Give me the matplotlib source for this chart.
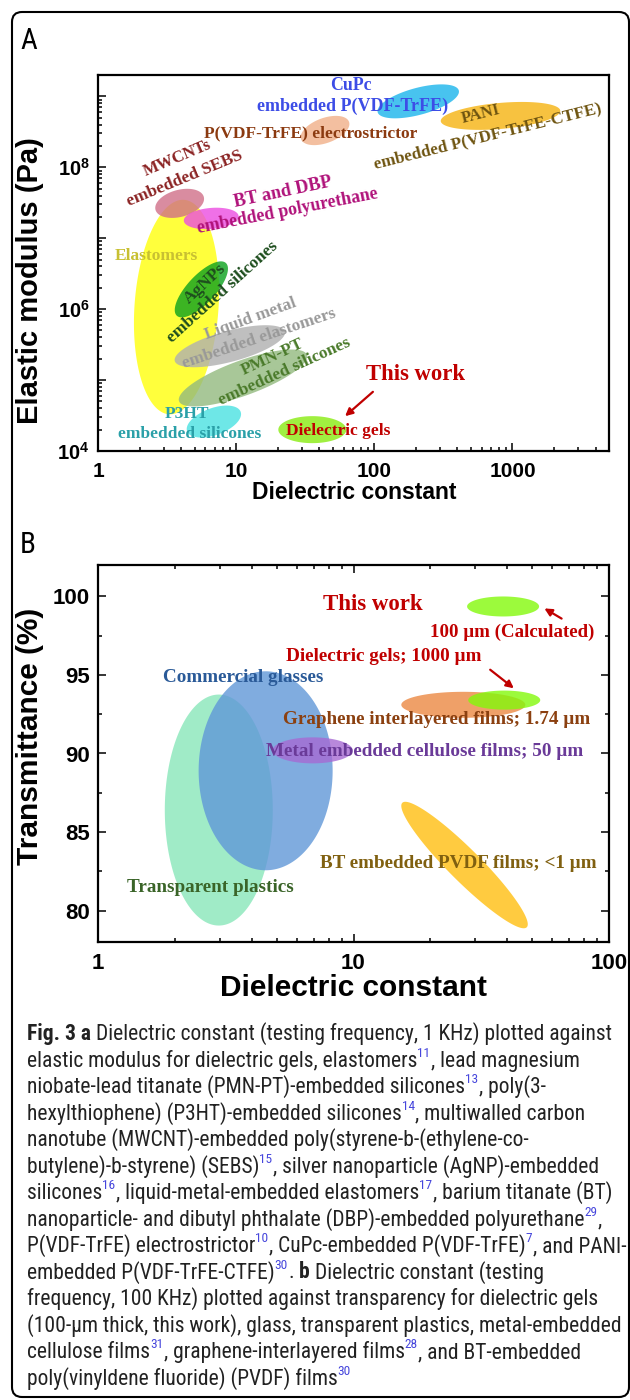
import numpy as np
import matplotlib
matplotlib.use('Agg')
import matplotlib.pyplot as plt
import matplotlib.font_manager as fm
from matplotlib.colors import to_rgb
from matplotlib.patches import FancyBboxPatch
from matplotlib.ticker import LogLocator, FuncFormatter, MultipleLocator, NullFormatter, FixedLocator

plt.rcParams['mathtext.fontset'] = 'custom'
plt.rcParams['mathtext.rm'] = 'Liberation Sans:bold'
plt.rcParams['mathtext.bf'] = 'Liberation Sans:bold'
plt.rcParams['mathtext.it'] = 'Liberation Sans:bold'

# ---------------- Data: panel A (dielectric constant vs elastic modulus) ----------------
a_names = ['Elastomers', 'Liquid metal embedded elastomers', 'PMN-PT embedded silicones',
           'AgNPs embedded silicones', 'P3HT embedded silicones', 'MWCNTs embedded SEBS',
           'BT and DBP embedded polyurethane', 'P(VDF-TrFE) electrostrictor',
           'CuPc embedded P(VDF-TrFE)', 'PANI embedded P(VDF-TrFE-CTFE)', 'Dielectric gels']
a_eps = [3.7, 9.0, 11.2, 5.6, 6.9, 3.9, 6.6, 44, 208, 820, 35.6]
a_mod = [1.07e6, 3.0e5, 1.07e5, 1.9e6, 2.6e4, 3.1e7, 1.9e7, 3.3e8, 8.5e8, 5.3e8, 2.0e4]

# ---------------- Data: panel B (dielectric constant vs transmittance) ----------------
b_names = ['Transparent plastics', 'Commercial glasses', 'Metal embedded cellulose films',
           'Graphene interlayered films', 'Dielectric gels 1000 um', 'Dielectric gels 100 um',
           'BT embedded PVDF films']
b_eps = [2.97, 4.53, 6.92, 26.9, 38.9, 38.5, 27.2]
b_trans = [86.4, 88.9, 90.2, 93.1, 93.4, 99.36, 82.9]

a_xticks = [1, 10, 100, 1000]
b_xticks = [1, 10, 100]

# ---------------- Styles ----------------
# ellipse extents in display pixels (width, height, angle)
a_shape = [(215, 84, 86), (114, 31, 15), (136, 35, 20), (72, 28, 47), (57, 27, 20),
           (50, 27, 15), (55, 21, 5), (51, 25, 20), (84, 27, 15), (120, 26, 5), (68, 27, 0)]
a_col = ['#ffff3c', '#c0c0c0', '#a8c898', '#3cb44a', '#6ee8e8', '#d98ca0', '#f070e8',
         '#f4c0a0', '#48c4f0', '#f8c240', '#a0f040']
b_shape = [(108, 231, 0), (134, 199, 0), (80, 26, 0), (124, 26, 0), (72, 19, 0),
           (72, 20, 0), (176, 32, -45)]
b_col = ['#a0ecc8', '#80ace0', '#b888dc', '#f0a068', '#9cfa3c', '#9cfa3c', '#ffcc40']
ALPHA = 0.8

W, H = 630, 1400
fig = plt.figure(figsize=(W / 100, H / 100), dpi=100)

names = {f.name for f in fm.fontManager.ttflist}
cap_font = 'Lato'
for cand in ['Liberation Sans Narrow', 'Roboto Condensed', 'Open Sans Condensed']:
    if cand in names:
        cap_font = cand
        break


def axrect(l, t, r, b):
    return [l / W, 1 - b / H, (r - l) / W, (b - t) / H]


def eff_color(c, a):
    rgb = (np.array(to_rgb(c)) - (1 - a)) / a
    return tuple(np.clip(rgb, 0, 1))


def draw_ellipse(ax, xc, yc, w, h, ang, color, z):
    cx, cy = ax.transData.transform((xc, yc))
    t = np.linspace(0, 2 * np.pi, 240)
    a = np.deg2rad(ang)
    px = cx + (w / 2) * np.cos(t) * np.cos(a) - (h / 2) * np.sin(t) * np.sin(a)
    py = cy + (w / 2) * np.cos(t) * np.sin(a) + (h / 2) * np.sin(t) * np.cos(a)
    d = ax.transData.inverted().transform(np.column_stack([px, py]))
    ax.fill(d[:, 0], d[:, 1], color=eff_color(color, ALPHA), alpha=ALPHA, lw=0, zorder=z)


def ftext(x, y, s, **kw):
    return fig.text(x / W, 1 - y / H, s, **kw)


SERIF = 'Liberation Serif'
SANS = 'Liberation Sans'

# ---------------- Panel A ----------------
axA = fig.add_axes(axrect(98, 75, 609, 451))
axA.set_xscale('log')
axA.set_yscale('log')
axA.set_xlim(1, 5000)
axA.set_ylim(1e4, 2e9)
axA.set_autoscale_on(False)
for i in range(len(a_names)):
    w, h, ang = a_shape[i]
    draw_ellipse(axA, a_eps[i], a_mod[i], w, h, ang, a_col[i], 2 + i)

axA.xaxis.set_major_locator(FixedLocator(a_xticks))
axA.xaxis.set_major_formatter(FuncFormatter(lambda v, p: '%d' % v))
axA.xaxis.set_minor_locator(LogLocator(base=10, subs=np.arange(2, 10), numticks=20))
axA.xaxis.set_minor_formatter(NullFormatter())
axA.yaxis.set_major_locator(LogLocator(base=10, numticks=20))
axA.yaxis.set_major_formatter(FuncFormatter(
    lambda v, p: (r'$\mathbf{10^{%d}}$' % round(np.log10(v))) if round(np.log10(v)) % 2 == 0 else ''))
axA.yaxis.set_minor_locator(LogLocator(base=10, subs=np.arange(2, 10), numticks=20))
axA.yaxis.set_minor_formatter(NullFormatter())
axA.tick_params(which='both', direction='in', width=1.1, top=False, right=False)
axA.tick_params(which='major', length=6)
axA.tick_params(which='minor', length=3.2)
axA.tick_params(axis='x', which='major', pad=8, labelsize=15)
axA.tick_params(axis='y', which='major', pad=6, labelsize=14.5)
for lab in axA.get_xticklabels():
    lab.set_fontfamily(SANS)
    lab.set_fontweight('bold')
for s in axA.spines.values():
    s.set_linewidth(1.6)

ftext(30, 281, 'Elastic modulus (Pa)', rotation=90, ha='center', va='center',
      fontsize=21, fontweight='bold', family=SANS)
ftext(354, 493, 'Dielectric constant', ha='center', va='center',
      fontsize=16.5, fontweight='bold', family=SANS)

a_labels = [
    ('CuPc', 351, 86, 0, '#3d4de6', 12.8),
    ('embedded P(VDF-TrFE)', 353, 106, 0, '#3d4de6', 13),
    ('P(VDF-TrFE) electrostrictor', 311, 133, 0, '#8b3a10', 12.5),
    ('PANI', 481, 114, 14, '#6e5410', 12),
    ('embedded P(VDF-TrFE-CTFE)', 488, 136, 14, '#6e5410', 12.3),
    ('MWCNTs', 177, 158, 23, '#8b2323', 12),
    ('embedded SEBS', 185, 179, 22.5, '#8b2323', 12.5),
    ('BT and DBP', 283, 192, 12, '#b0127a', 13.2),
    ('embedded polyurethane', 288, 211, 11, '#b0127a', 12.8),
    ('Elastomers', 156, 256, 0, '#c8c032', 12.5),
    ('AgNPs', 205, 284, 43, '#1e4e1e', 12.5),
    ('embedded silicones', 223, 292, 42, '#1e4e1e', 12.5),
    ('Liquid metal', 251, 319, 20, '#999999', 12.5),
    ('embedded elastomers', 259, 339, 18.5, '#999999', 12.5),
    ('PMN-PT', 273, 357, 25, '#4a7a2a', 12.5),
    ('embedded silicones', 285, 372, 24.5, '#4a7a2a', 12.5),
    ('This work', 416, 375, 0, '#c00000', 16.3),
    ('P3HT', 187, 414, 0, '#2aa0a8', 12.5),
    ('embedded silicones', 190, 434, 0, '#2aa0a8', 12.5),
    ('Dielectric gels', 338, 431, 0, '#c00000', 12.5),
]
for s, x, y, r, c, fs in a_labels:
    ftext(x, y, s, rotation=r, rotation_mode='anchor', ha='center', va='center',
          color=c, fontsize=fs, fontweight='bold', family=SERIF, zorder=20)

axA.annotate('', xy=(343, H - 418), xytext=(375, H - 390), xycoords='figure pixels',
             textcoords='figure pixels',
             arrowprops=dict(arrowstyle='-|>', color='#c00000', lw=1.6, mutation_scale=11))

# ---------------- Panel B ----------------
axB = fig.add_axes(axrect(98, 565, 609, 942))
axB.set_xscale('log')
axB.set_xlim(1, 100)
axB.set_ylim(78, 102)
axB.set_autoscale_on(False)
for i in range(len(b_names)):
    w, h, ang = b_shape[i]
    draw_ellipse(axB, b_eps[i], b_trans[i], w, h, ang, b_col[i], 2 + i)

axB.xaxis.set_major_locator(FixedLocator(b_xticks))
axB.xaxis.set_major_formatter(FuncFormatter(lambda v, p: '%d' % v))
axB.xaxis.set_minor_locator(LogLocator(base=10, subs=np.arange(2, 10), numticks=20))
axB.xaxis.set_minor_formatter(NullFormatter())
axB.yaxis.set_major_locator(MultipleLocator(5))
axB.yaxis.set_minor_locator(MultipleLocator(2.5))
axB.yaxis.set_major_formatter(FuncFormatter(lambda v, p: '%d' % v if 80 <= v <= 100 else ''))
axB.tick_params(which='both', direction='in', width=1.1, top=True, right=True)
axB.tick_params(which='major', length=6)
axB.tick_params(which='minor', length=3.2)
axB.tick_params(axis='x', which='major', pad=8, labelsize=16)
axB.tick_params(axis='y', which='major', pad=6, labelsize=16)
for lab in axB.get_xticklabels() + axB.get_yticklabels():
    lab.set_fontfamily(SANS)
    lab.set_fontweight('bold')
for s in axB.spines.values():
    s.set_linewidth(1.6)

ftext(30, 736, 'Transmittance (%)', rotation=90, ha='center', va='center',
      fontsize=21.5, fontweight='bold', family=SANS)
ftext(354, 988, 'Dielectric constant', ha='center', va='center',
      fontsize=21.5, fontweight='bold', family=SANS)

b_labels = [
    ('This work', 373, 605, '#c00000', 16.5),
    ('100 µm (Calculated)', 512, 632, '#c00000', 13.6),
    ('Dielectric gels; 1000 µm', 384, 656, '#c00000', 13.8),
    ('Commercial glasses', 243, 677, '#2a5a98', 13.8),
    ('Graphene interlayered films; 1.74 µm', 437, 720, '#8b4010', 13.8),
    ('Metal embedded cellulose films; 50 µm', 425, 751, '#6a3a98', 13.8),
    ('BT embedded PVDF films; <1 µm', 458, 864, '#806010', 13.8),
    ('Transparent plastics', 210, 887, '#3a6428', 13.8),
]
for s, x, y, c, fs in b_labels:
    ftext(x, y, s, ha='center', va='center', color=c, fontsize=fs,
          fontweight='bold', family=SERIF, zorder=20)

for (x0, y0, x1, y1) in [(564, 620, 542, 607), (488, 668, 516, 690)]:
    axB.annotate('', xy=(x1, H - y1), xytext=(x0, H - y0), xycoords='figure pixels',
                 textcoords='figure pixels',
                 arrowprops=dict(arrowstyle='-|>', color='#c00000', lw=1.6, mutation_scale=11))

# ---------------- Panel letters and frame ----------------
ftext(29, 41, 'A', ha='center', va='center', fontsize=21, family=cap_font)
ftext(28, 545, 'B', ha='center', va='center', fontsize=21, family=cap_font)

frame = FancyBboxPatch((12 / 100, (H - 1397) / 100), (629 - 12) / 100, (1397 - 12) / 100,
                       boxstyle='round,pad=0,rounding_size=0.1', transform=fig.dpi_scale_trans,
                       fill=False, lw=1.5, ec='black')
fig.patches.append(frame)

# ---------------- Caption ----------------
caption_lines = [
    [("Fig. 3 a", 'b'), (" Dielectric constant (testing frequency, 1 KHz) plotted against", 'n')],
    [("elastic modulus for dielectric gels, elastomers", 'n'), ("11", 's'), (", lead magnesium", 'n')],
    [("niobate-lead titanate (PMN-PT)-embedded silicones", 'n'), ("13", 's'), (", poly(3-", 'n')],
    [("hexylthiophene) (P3HT)-embedded silicones", 'n'), ("14", 's'), (", multiwalled carbon", 'n')],
    [("nanotube (MWCNT)-embedded poly(styrene-b-(ethylene-co-", 'n')],
    [("butylene)-b-styrene) (SEBS)", 'n'), ("15", 's'), (", silver nanoparticle (AgNP)-embedded", 'n')],
    [("silicones", 'n'), ("16", 's'), (", liquid-metal-embedded elastomers", 'n'), ("17", 's'),
     (", barium titanate (BT)", 'n')],
    [("nanoparticle- and dibutyl phthalate (DBP)-embedded polyurethane", 'n'), ("29", 's'), (",", 'n')],
    [("P(VDF-TrFE) electrostrictor", 'n'), ("10", 's'), (", CuPc-embedded P(VDF-TrFE)", 'n'), ("7", 's'),
     (", and PANI-", 'n')],
    [("embedded P(VDF-TrFE-CTFE)", 'n'), ("30", 's'), (". ", 'n'), ("b", 'b'),
     (" Dielectric constant (testing", 'n')],
    [("frequency, 100 KHz) plotted against transparency for dielectric gels", 'n')],
    [("(100-µm thick, this work), glass, transparent plastics, metal-embedded", 'n')],
    [("cellulose films", 'n'), ("31", 's'), (", graphene-interlayered films", 'n'), ("28", 's'),
     (", and BT-embedded", 'n')],
    [("poly(vinyldene fluoride) (PVDF) films", 'n'), ("30", 's')],
]

renderer = fig.canvas.get_renderer()


def text_width(s, fs, weight='normal'):
    t = fig.text(0, 0, s, fontsize=fs, family=cap_font, fontweight=weight)
    w = t.get_window_extent(renderer=renderer).width
    t.remove()
    return w


# fit caption font size so that the first line spans the reference width
probe = 14.0
line1 = "Fig. 3 a Dielectric constant (testing frequency, 1 KHz) plotted against"
CFS = probe * 591.0 / text_width(line1, probe)
CFS = min(CFS, 15.5)
space_w = text_width("a a", CFS) - text_width("aa", CFS)

y_base = 1040
for k, segs in enumerate(caption_lines):
    x = 27.0
    yb = y_base + 26.5 * k
    for s, kind in segs:
        lead = len(s) - len(s.lstrip(' '))
        trail = len(s) - len(s.rstrip(' '))
        x += lead * space_w
        core = s.strip(' ')
        if kind == 's':
            fs, wt, col, yy = CFS * 0.62, 'normal', '#4646dc', yb - CFS * 0.62
        elif kind == 'b':
            fs, wt, col, yy = CFS, 'bold', '#222222', yb
        else:
            fs, wt, col, yy = CFS, 'normal', '#222222', yb
        t = ftext(x, yy, core, fontsize=fs, fontweight=wt, color=col, family=cap_font,
                  ha='left', va='baseline')
        x += t.get_window_extent(renderer=renderer).width + (0.5 if kind == 's' else 0)
        x += trail * space_w

fig.savefig('out.png', dpi=100)
